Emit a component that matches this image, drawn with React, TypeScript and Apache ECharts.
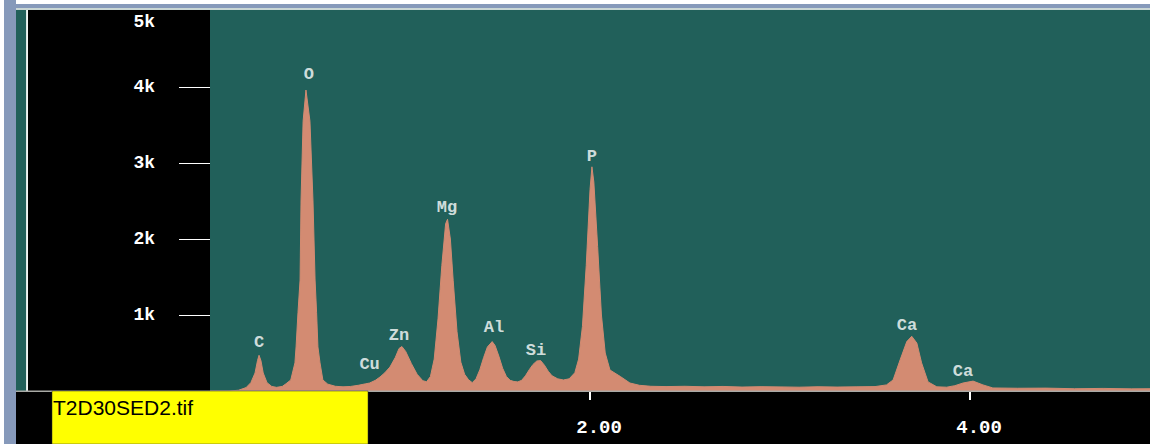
import React, { useEffect, useRef } from "react";
import * as echarts from "echarts";

// Spectrum: energy (keV) and counts
const energies = [
  0.0, 0.1, 0.15, 0.19, 0.215, 0.237, 0.25, 0.258, 0.268, 0.28, 0.3, 0.325, 0.35, 0.38, 0.4,
  0.425, 0.447, 0.453, 0.463, 0.474, 0.479, 0.49, 0.505, 0.526, 0.542, 0.553, 0.561, 0.568, 0.579, 0.594,
  0.62, 0.66, 0.7, 0.74, 0.78, 0.82, 0.84, 0.87, 0.895, 0.92, 0.947, 0.975, 0.995, 1.01, 1.03,
  1.06, 1.09, 1.12, 1.14, 1.16, 1.18, 1.2, 1.22, 1.24, 1.25, 1.265, 1.28, 1.3, 1.32, 1.34,
  1.36, 1.38, 1.4, 1.42, 1.44, 1.46, 1.485, 1.5, 1.52, 1.54, 1.56, 1.58, 1.6, 1.62, 1.64,
  1.66, 1.68, 1.7, 1.72, 1.74, 1.76, 1.78, 1.8, 1.83, 1.86, 1.89, 1.92, 1.94, 1.96, 1.98,
  2.0, 2.01, 2.02, 2.04, 2.06, 2.08, 2.105, 2.16, 2.21, 2.26, 2.32, 2.4, 2.5, 2.6, 2.7,
  2.8, 2.9, 3.0, 3.1, 3.2, 3.3, 3.4, 3.5, 3.56, 3.595, 3.632, 3.667, 3.693, 3.72, 3.745,
  3.779, 3.825, 3.877, 3.92, 3.963, 4.016, 4.068, 4.12, 4.25, 4.4, 4.55, 4.7, 4.85, 4.947,
];
const counts = [
  0, 0, 10, 45, 110, 237, 400, 470, 400, 237, 110, 60, 48, 60, 95,
  145, 370, 580, 1030, 1460, 2500, 3550, 3960, 3550, 2500, 1460, 1030, 580, 370, 145,
  90, 62, 55, 60, 75, 95, 105, 140, 185, 240, 315, 440, 560, 585, 520,
  360, 220, 135, 122, 190, 420, 950, 1650, 2200, 2260, 2000, 1450, 780, 380, 220,
  150, 110, 160, 280, 440, 580, 650, 600, 460, 300, 190, 140, 125, 120, 140,
  200, 280, 350, 395, 400, 340, 260, 200, 160, 145, 160, 240, 420, 850, 1650,
  2650, 2950, 2750, 1900, 1000, 500, 276, 190, 105, 75, 62, 58, 62, 55, 60,
  52, 57, 54, 50, 56, 52, 55, 58, 80, 145, 410, 650, 720, 630, 370,
  120, 55, 50, 70, 105, 130, 80, 40, 36, 38, 30, 34, 28, 30,
];

// Element labels above the peaks
const peakLabels = ["C", "O", "Cu", "Zn", "Mg", "Al", "Si", "P", "Ca", "Ca"];
const peakLabelX = [0.258, 0.52, 0.84, 0.995, 1.247, 1.495, 1.716, 2.01, 3.668, 3.963];
const peakLabelY = [632, 4158, 355, 724, 2421, 829, 539, 3092, 868, 263];

// Axis ticks
const yTickValues = [1000, 2000, 3000, 4000];
const yLabelValues = [1000, 2000, 3000, 4000, 5000];
const xTickValues = [2, 4];
const fileName = "T2D30SED2.tif";

const TEAL = "#21605a";
const SALMON = "#d38b72";
const FRAME = "#8699ba";
const MONO = "'Liberation Mono', 'DejaVu Sans Mono', monospace";

export default function App() {
  const ref = useRef<HTMLDivElement>(null);

  useEffect(() => {
    if (!ref.current) return;
    const chart = echarts.init(ref.current, undefined, { renderer: "svg" });
    const option: any = {
      animation: false,
      backgroundColor: "#ffffff",
      grid: {
        left: 210,
        right: 0,
        top: 11,
        bottom: 53,
        show: true,
        backgroundColor: TEAL,
        borderWidth: 0,
      },
      xAxis: {
        type: "value",
        min: 0,
        max: 4.947,
        interval: 2,
        axisLine: { show: false },
        splitLine: { show: false },
        axisTick: {
          show: true,
          customValues: xTickValues,
          length: 9,
          lineStyle: { color: "#ffffff", width: 2 },
        },
        axisLabel: {
          customValues: xTickValues,
          formatter: (v: number) => v.toFixed(2),
          color: "#ffffff",
          fontFamily: MONO,
          fontWeight: "bold",
          fontSize: 19,
          margin: 27,
          padding: [0, 0, 0, 18],
        },
      },
      yAxis: {
        type: "value",
        min: 0,
        max: 5000,
        interval: 1000,
        axisLine: { show: false },
        splitLine: { show: false },
        axisTick: {
          show: true,
          customValues: yTickValues,
          length: 31,
          lineStyle: { color: "#ffffff", width: 1 },
        },
        axisLabel: {
          customValues: yLabelValues,
          formatter: (v: number) => (v === 5000 ? "{top|5k}" : v / 1000 + "k"),
          color: "#ffffff",
          fontFamily: MONO,
          fontWeight: "bold",
          fontSize: 18,
          margin: 55,
          rich: {
            top: {
              padding: [22, 0, 0, 0],
              color: "#ffffff",
              fontFamily: MONO,
              fontWeight: "bold",
              fontSize: 18,
            },
          },
        },
      },
      series: [
        {
          type: "line",
          data: energies.map((e, i) => [e, counts[i]]),
          symbol: "none",
          lineStyle: { color: SALMON, width: 1 },
          areaStyle: { color: SALMON, opacity: 1 },
          silent: true,
        },
        {
          type: "scatter",
          data: peakLabels.map((n, i) => ({ name: n, value: [peakLabelX[i], peakLabelY[i]] })),
          symbolSize: 1,
          itemStyle: { color: "rgba(0,0,0,0)" },
          label: {
            show: true,
            position: "inside",
            formatter: "{b}",
            color: "#ffffff",
            fontFamily: MONO,
            fontWeight: "bold",
            fontSize: 17,
          },
          silent: true,
          z: 5,
        },
      ],
      graphic: [
        { type: "rect", silent: true, z: -10, shape: { x: 4, y: 0, width: 12, height: 444 }, style: { fill: FRAME } },
        { type: "rect", silent: true, z: -10, shape: { x: 4, y: 4, width: 1146, height: 5 }, style: { fill: FRAME } },
        { type: "rect", silent: true, z: -9, shape: { x: 16, y: 8, width: 1134, height: 2 }, style: { fill: "#c9d6d4" } },
        { type: "rect", silent: true, z: -9, shape: { x: 16, y: 10, width: 11, height: 382 }, style: { fill: TEAL } },
        { type: "rect", silent: true, z: -9, shape: { x: 26, y: 10, width: 1.5, height: 382 }, style: { fill: "#dfe8e6" } },
        { type: "rect", silent: true, z: -9, shape: { x: 28, y: 10, width: 182, height: 382 }, style: { fill: "#000000" } },
        { type: "rect", silent: true, z: -9, shape: { x: 210, y: 10, width: 940, height: 2 }, style: { fill: TEAL } },
        { type: "rect", silent: true, z: -9, shape: { x: 16, y: 392, width: 1134, height: 52 }, style: { fill: "#000000" } },
        { type: "rect", silent: true, z: 6, shape: { x: 16, y: 390.5, width: 1134, height: 1.5 }, style: { fill: "#a9aaa6" } },
        { type: "rect", silent: true, z: 10, shape: { x: 52, y: 391, width: 316, height: 53 }, style: { fill: "#ffff00", stroke: "#333333", lineWidth: 0.5 } },
        {
          type: "text",
          silent: true,
          z: 11,
          x: 53,
          y: 397,
          style: {
            text: fileName,
            fill: "#000000",
            font: "21px 'Liberation Sans', Arial, sans-serif",
            textVerticalAlign: "top",
          },
        },
      ],
    };
    chart.setOption(option);
    return () => chart.dispose();
  }, []);

  return (
    <div
      ref={ref}
      style={{ position: "absolute", left: 0, top: 0, width: 1150, height: 444 }}
    />
  );
}
